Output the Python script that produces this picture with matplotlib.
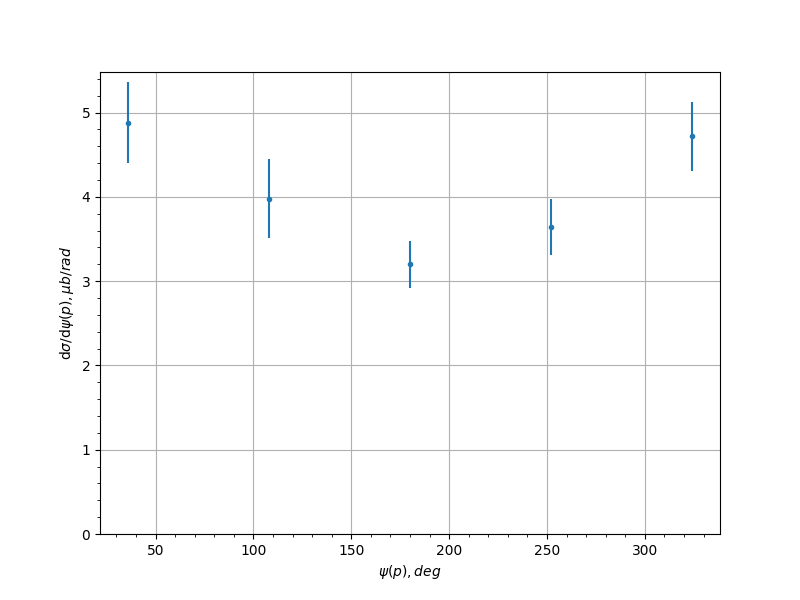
import matplotlib
matplotlib.use("Agg")
import matplotlib.pyplot as plt

psi = [36, 108, 180, 252, 324]
xsec = [4.88, 3.98, 3.20, 3.64, 4.72]
xsec_err = [0.48, 0.47, 0.28, 0.33, 0.41]

fig, ax = plt.subplots(figsize=(8, 6), dpi=100)
ax.errorbar(psi, xsec, yerr=xsec_err, fmt='.')
ax.set_ylim(bottom=0)
ax.minorticks_on()
ax.grid(which='major')
ax.set_xlabel(r'$\psi(p), deg$')
ax.set_ylabel(r'$\mathrm{d}\sigma/\mathrm{d}\psi(p), \mu b/rad$')
fig.savefig('out.png')
